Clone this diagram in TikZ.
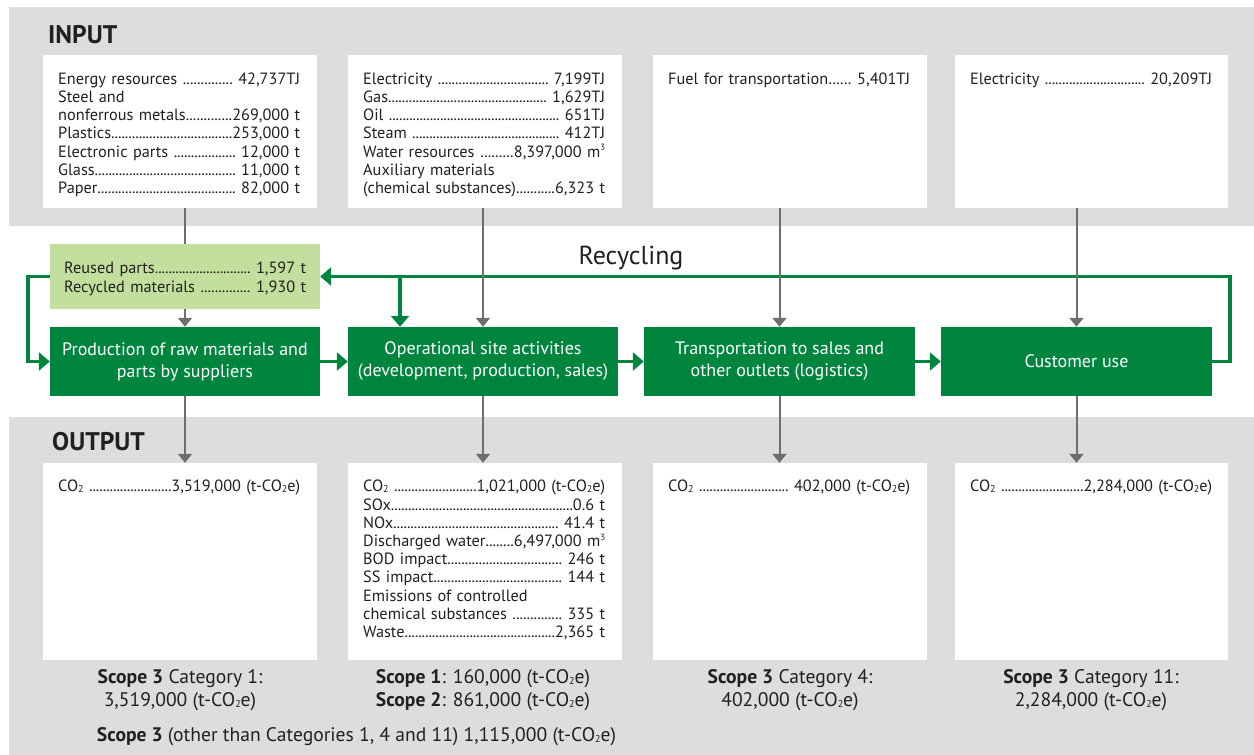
\documentclass[tikz,border=0pt]{standalone}
\usepackage{fontspec}
\setmainfont{PT Sans}
\usetikzlibrary{arrows.meta,calc}
\definecolor{dgreen}{HTML}{00853F}
\definecolor{lgreen}{HTML}{C3DF9D}
\definecolor{bggray}{HTML}{DCDDDC}
\definecolor{arrgray}{HTML}{6E6E6E}
\definecolor{txt}{HTML}{231F20}
\newcommand{\dotlead}{\xleaders\hbox to 3.4pt{\hss.\hss}\hfill}
\newcommand{\entry}[2]{\noindent\strut#1\dotlead#2\par}
\newcommand{\cotwo}{CO\raisebox{-0.1ex}{\fontsize{10}{10}\selectfont 2}}
\newcommand{\mcube}{m\raisebox{0.75ex}{\fontsize{9}{9}\selectfont 3}}
\begin{document}
\begin{tikzpicture}[x=1pt,y=-1pt,
  wbox/.style={fill=white, draw=none, inner sep=0},
  gbox/.style={fill=dgreen, draw=none, text=white, align=center, inner sep=0,
     minimum height=69pt, font=\fontsize{18}{22}\selectfont},
  listtext/.style={anchor=north west, inner sep=0, text width=242pt, align=left,
     text=txt, font=\fontsize{16.3}{18.2}\selectfont},
  scopetext/.style={align=center, inner sep=0, text=txt, font=\fontsize{19.6}{23}\selectfont},
  gline/.style={draw=arrgray, line width=2pt},
  garr/.style={draw=arrgray, line width=2pt, -{Triangle[width=14pt,length=9pt]}},
  grarr/.style={draw=dgreen, line width=3.5pt, line join=miter, -{Triangle[width=18pt,length=11pt]}},
  heading/.style={anchor=west, inner sep=0, text=txt, font=\fontsize{25.5}{28}\selectfont\bfseries}
]
\useasboundingbox (0,0) rectangle (1254,755);
\fill[bggray] (9,7) rectangle (1254,226);
\fill[bggray] (9,417) rectangle (1254,755);

% input boxes
\node[wbox, minimum width=274pt, minimum height=153pt] (in1) at (180,131.5) {};
\node[wbox, minimum width=274pt, minimum height=153pt] (in2) at (485,131.5) {};
\node[wbox, minimum width=274pt, minimum height=153pt] (in3) at (790,131.5) {};
\node[wbox, minimum width=273pt, minimum height=153pt] (in4) at (1091.5,131.5) {};
% output boxes
\node[wbox, minimum width=274pt, minimum height=197pt] (out1) at (180,561.5) {};
\node[wbox, minimum width=274pt, minimum height=197pt] (out2) at (485,561.5) {};
\node[wbox, minimum width=274pt, minimum height=197pt] (out3) at (790,561.5) {};
\node[wbox, minimum width=273pt, minimum height=197pt] (out4) at (1091.5,561.5) {};

\node[heading] (inlab) at (48,35) {INPUT};
\node[heading] (outlab) at (52,442) {OUTPUT};

% input lists
\node[listtext] (t1) at (58,71.3) {%
\entry{Energy resources }{ 42,737TJ}
\noindent Steel and\par
\entry{nonferrous metals}{269,000 t}
\entry{Plastics}{253,000 t}
\entry{Electronic parts }{ 12,000 t}
\entry{Glass}{ 11,000 t}
\entry{Paper}{ 82,000 t}};
\node[listtext] (t2) at (363,71.3) {%
\entry{Electricity }{ 7,199TJ}
\entry{Gas}{ 1,629TJ}
\entry{Oil }{ 651TJ}
\entry{Steam }{ 412TJ}
\entry{Water resources }{8,397,000 \mcube}
\noindent Auxiliary materials\par
\entry{(chemical substances)}{6,323 t}};
\node[listtext] (t3) at (668,71.3) {\entry{Fuel for transportation}{ 5,401TJ}};
\node[listtext] (t4) at (970,71.3) {\entry{Electricity }{ 20,209TJ}};

% output lists
\node[listtext] (o1) at (58,479) {\entry{\cotwo{} }{3,519,000 (t-\cotwo e)}};
\node[listtext] (o2) at (363,479) {%
\entry{\cotwo{} }{1,021,000 (t-\cotwo e)}
\entry{SOx}{0.6 t}
\entry{NOx}{ 41.4 t}
\entry{Discharged water}{6,497,000 \mcube}
\entry{BOD impact}{ 246 t}
\entry{SS impact}{ 144 t}
\noindent Emissions of controlled\par
\entry{chemical substances }{ 335 t}
\entry{Waste}{2,365 t}};
\node[listtext] (o3) at (668,479) {\entry{\cotwo{} }{ 402,000 (t-\cotwo e)}};
\node[listtext] (o4) at (970,479) {\entry{\cotwo{} }{2,284,000 (t-\cotwo e)}};

% process boxes
\node[fill=lgreen, inner sep=0, minimum width=270pt, minimum height=65pt] (lg) at (185,276.5) {};
\node[listtext] (lgt) at (64,261) {%
\entry{Reused parts}{ 1,597 t}
\entry{Recycled materials }{ 1,930 t}};
\node[gbox, minimum width=270pt] (g1) at (185,361.5) {Production of raw materials and\\parts by suppliers};
\node[gbox, minimum width=270pt] (g2) at (483,361.5) {Operational site activities\\(development, production, sales)};
\node[gbox, minimum width=271pt] (g3) at (779.5,361.5) {Transportation to sales and\\other outlets (logistics)};
\node[gbox, minimum width=271pt] (g4) at (1076.5,361.5) {Customer use};

\node[inner sep=0, text=txt, font=\fontsize{26}{30}\selectfont] (rl) at (631,258) {Recycling};

% green connectors
\coordinate (rc) at (1230,276.5);
\coordinate (lc) at (28,276.5);
\coordinate (bc) at (400,276.5);
\draw[grarr] (g1.east) -- (g2.west);
\draw[grarr] (g2.east) -- (g3.west);
\draw[grarr] (g3.east) -- (g4.west);
\draw[grarr] (g4.east) -| (rc) -- (lg.east);
\draw[grarr] (lg.west) -- (lc) |- (g1.west);
\draw[grarr] (bc) -- (bc |- g2.north);

% gray connectors
\draw[gline] (in1.south -| g1.north) -- (lg.north -| g1.north);
\draw[garr] (lg.south -| g1.north) -- (g1.north);
\draw[garr] (g1.south) -- (out1.north -| g1.south);
\draw[garr] (in2.south -| g2.north) -- (g2.north);
\draw[garr] (g2.south) -- (out2.north -| g2.south);
\draw[garr] (in3.south -| g3.north) -- (g3.north);
\draw[garr] (g3.south) -- (out3.north -| g3.south);
\draw[garr] (in4.south -| g4.north) -- (g4.north);
\draw[garr] (g4.south) -- (out4.north -| g4.south);

% scope texts
\node[scopetext] (s1) at (180,690) {\textbf{Scope 3} Category 1:\\3,519,000 (t-\cotwo e)};
\node[scopetext] (s2) at (483,690) {\textbf{Scope 1}: 160,000 (t-\cotwo e)\\\textbf{Scope 2}: 861,000 (t-\cotwo e)};
\node[scopetext] (s3) at (790,690) {\textbf{Scope 3} Category 4:\\402,000 (t-\cotwo e)};
\node[scopetext] (s4) at (1091,690) {\textbf{Scope 3} Category 11:\\2,284,000 (t-\cotwo e)};
\node[scopetext] (s5) at (356.5,737) {\textbf{Scope 3} (other than Categories 1, 4 and 11) 1,115,000 (t-\cotwo e)};
\end{tikzpicture}
\end{document}
